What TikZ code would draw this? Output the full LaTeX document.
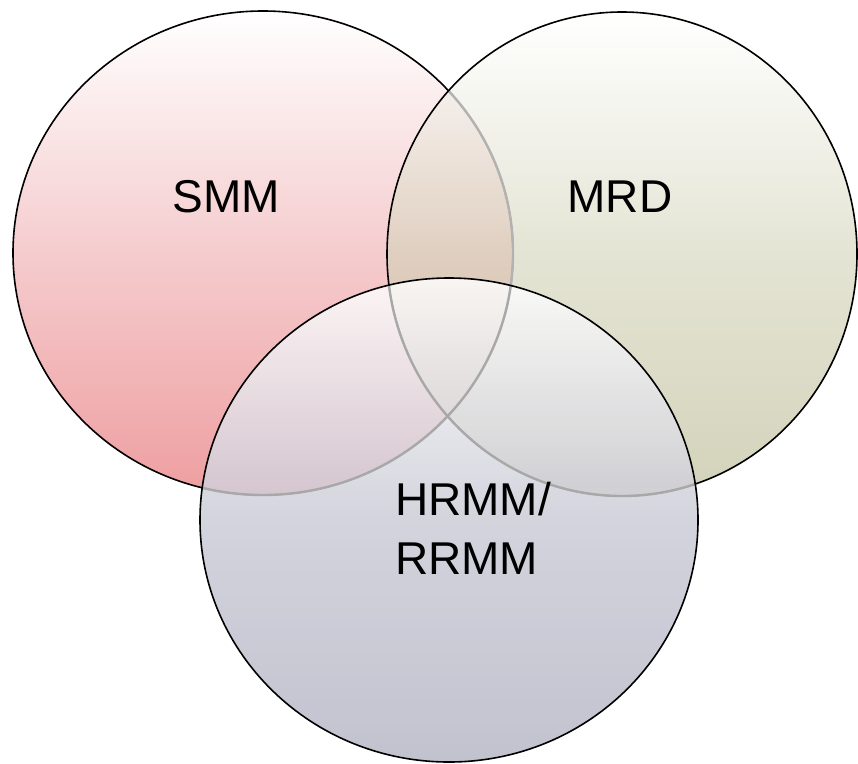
\documentclass[tikz,border=0pt]{standalone}
\usepackage{fontspec}
\setmainfont{Liberation Sans}
\usetikzlibrary{positioning}

\definecolor{smmpink}{RGB}{238,158,160}
\definecolor{smmmid}{RGB}{245,204,206}
\definecolor{mrdolive}{RGB}{182,181,140}
\definecolor{mrdmid}{RGB}{210,210,184}
\definecolor{hrmmgrey}{RGB}{181,181,197}
\definecolor{hrmmmid}{RGB}{202,202,214}

\tikzset{
  venn line/.style={line width=1.6pt, draw=black},
  hidden line/.style={line width=2.4pt, draw=black!30},
  venn label/.style={font=\fontsize{46}{59}\selectfont, align=left, inner sep=0pt},
}

\begin{document}
\begin{tikzpicture}[x=1pt,y=-1pt]
	\useasboundingbox (0,0) rectangle (858,763); %画布大小
	\shade [top color=white, bottom color=smmpink, middle color=smmmid] (263,253) ellipse [x radius=250, y radius=242]; %SMM 圆
	\draw [venn line] (263,253) ellipse [x radius=250, y radius=242];
	\shade [top color=white, bottom color=mrdolive, middle color=mrdmid, fill opacity=0.6] (622,254) ellipse [x radius=235, y radius=242]; %MRD 圆
	\begin{scope}
		\clip (622,254) ellipse [x radius=235, y radius=242];
		\draw [hidden line] (263,253) ellipse [x radius=250, y radius=242]; %被遮住的边
	\end{scope}
	\draw [venn line] (622,254) ellipse [x radius=235, y radius=242];
	\shade [top color=white, bottom color=hrmmgrey, middle color=hrmmmid, fill opacity=0.82] (449,520) ellipse [x radius=249, y radius=242]; %HRMM 圆
	\begin{scope}
		\clip (449,520) ellipse [x radius=249, y radius=242];
		\draw [hidden line, draw=black!34] (263,253) ellipse [x radius=250, y radius=242];
		\draw [hidden line, draw=black!34] (622,254) ellipse [x radius=235, y radius=242];
	\end{scope}
	\draw [venn line] (449,520) ellipse [x radius=249, y radius=242];
	\node [venn label] (smm) at (226,197) {SMM}; %文字
	\node [venn label] (mrd) at (620,197) {MRD};
	\node [venn label, anchor=north west] (hrmm) at (395,482) {HRMM/\\RRMM};
\end{tikzpicture}
\end{document}
